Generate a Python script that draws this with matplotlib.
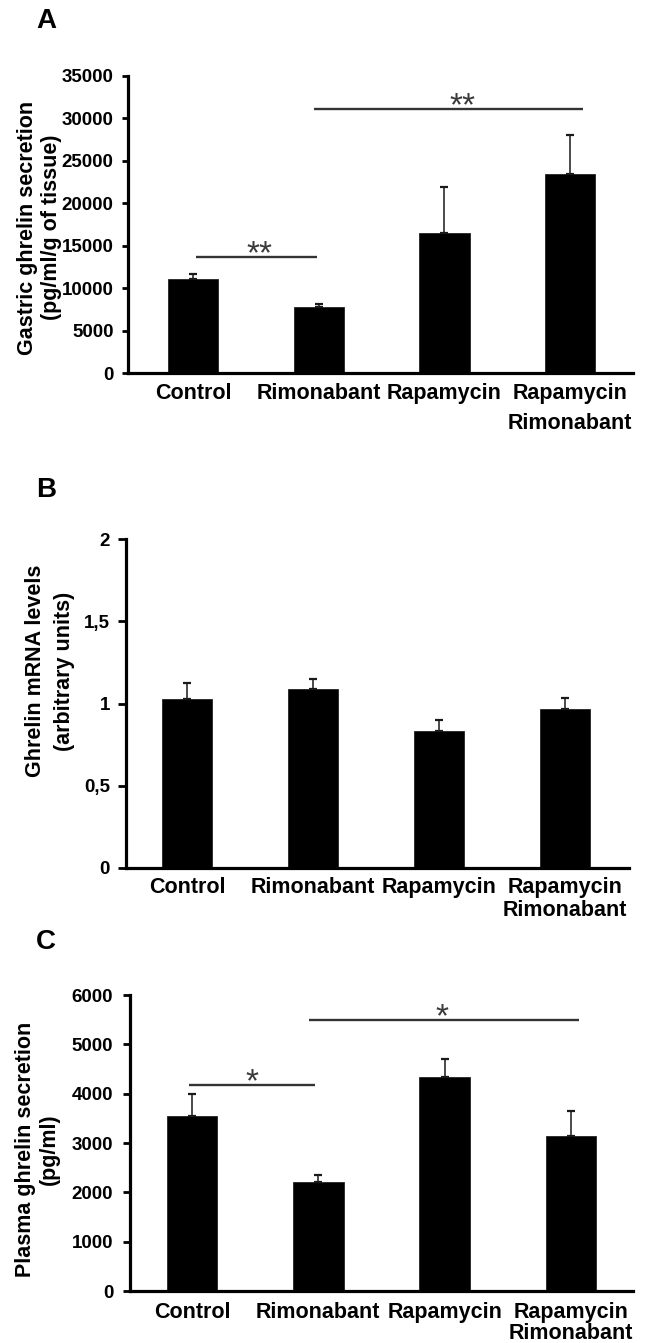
import matplotlib
matplotlib.use('Agg')
import matplotlib.pyplot as plt

plt.rcParams['font.family'] = ['Liberation Sans', 'DejaVu Sans']
plt.rcParams['font.weight'] = 'bold'

# ---------------- data ----------------
categories = ['Control', 'Rimonabant', 'Rapamycin', 'Rapamycin\nRimonabant']

gastric_mean = [11040, 7760, 16500, 23450]
gastric_sem = [620, 400, 5460, 4600]
gastric_ticks = [0, 5000, 10000, 15000, 20000, 25000, 30000, 35000]
gastric_ticklabels = ['0', '5000', '10000', '15000', '20000', '25000', '30000', '35000']

mrna_mean = [1.027, 1.086, 0.835, 0.964]
mrna_sem = [0.096, 0.061, 0.062, 0.072]
mrna_ticks = [0, 0.5, 1, 1.5, 2]
mrna_ticklabels = ['0', '0,5', '1', '1,5', '2']

plasma_mean = [3547, 2216, 4345, 3149]
plasma_sem = [440, 129, 358, 500]
plasma_ticks = [0, 1000, 2000, 3000, 4000, 5000, 6000]
plasma_ticklabels = ['0', '1000', '2000', '3000', '4000', '5000', '6000']

# significance brackets (category units / data units)
gastric_sig_x0 = [0.02, 0.96]
gastric_sig_x1 = [0.99, 3.10]
gastric_sig_y = [13670, 31110]
gastric_sig_star_x = [0.525, 2.14]
gastric_sig_label = ['**', '**']

plasma_sig_x0 = [-0.02, 0.93]
plasma_sig_x1 = [0.97, 3.06]
plasma_sig_y = [4176, 5493]
plasma_sig_star_x = [0.475, 1.98]
plasma_sig_label = ['*', '*']

# ---------------- figure ----------------
W, H = 656, 1343
fig = plt.figure(figsize=(W / 100, H / 100), dpi=100)


def px_axes(left, right, top, bottom):
    return fig.add_axes([left / W, 1 - bottom / H, (right - left) / W, (bottom - top) / H])


def style_axes(ax, ticks, ticklabels, ylim, xlim, ticklen, ypad, xpad, xls):
    x = list(range(len(categories)))
    ax.set_xlim(*xlim)
    ax.set_ylim(*ylim)
    for s in ['top', 'right']:
        ax.spines[s].set_visible(False)
    for s in ['left', 'bottom']:
        ax.spines[s].set_linewidth(2.3)
    ax.set_yticks(ticks)
    ax.set_yticklabels(ticklabels, fontsize=13.5, fontweight='bold')
    ax.tick_params(axis='y', direction='out', length=ticklen, width=2, pad=ypad)
    ax.set_xticks(x)
    ax.set_xticklabels(categories, fontsize=15.5, fontweight='bold')
    ax.tick_params(axis='x', length=0, pad=xpad)
    for lbl in ax.get_xticklabels():
        lbl.set_linespacing(xls)


def draw_bars(ax, mean, sem):
    x = list(range(len(categories)))
    ax.bar(x, mean, width=0.40, color='black', edgecolor='#222222', linewidth=0.6, zorder=2)
    ax.errorbar(x, mean, yerr=[[0] * len(mean), sem], fmt='none', ecolor='#1a1a1a',
                elinewidth=1.1, capsize=2.9, capthick=1.6, zorder=3)


def draw_sig(ax, x0s, x1s, ys, sx, labels):
    for a, b, y, s, t in zip(x0s, x1s, ys, sx, labels):
        ax.plot([a, b], [y, y], color='#333333', lw=1.7, solid_capstyle='butt', zorder=3)
        ax.annotate(t, xy=(s, y), xytext=(0, -4.5), textcoords='offset points',
                    ha='center', va='baseline', fontsize=24, fontweight='normal',
                    color='#3a3a3a', annotation_clip=False)


# Panel A
axA = px_axes(128, 633, 76, 373)
draw_bars(axA, gastric_mean, gastric_sem)
style_axes(axA, gastric_ticks, gastric_ticklabels, (0, 35000), (-0.517, 3.50), 4.0, 6.3, 7.0, 1.58)
draw_sig(axA, gastric_sig_x0, gastric_sig_x1, gastric_sig_y, gastric_sig_star_x, gastric_sig_label)
axA.text(-0.175, 0.49, 'Gastric ghrelin secretion\n(pg/ml/g of tissue)', transform=axA.transAxes,
         rotation=90, ha='center', va='center', multialignment='center', fontsize=15.5,
         fontweight='bold', linespacing=1.2)

# Panel B
axB = px_axes(126, 629, 539, 868)
draw_bars(axB, mrna_mean, mrna_sem)
style_axes(axB, mrna_ticks, mrna_ticklabels, (0, 2), (-0.484, 3.51), 5.5, 6.0, 6.3, 1.14)
axB.text(-0.151, 0.599, 'Ghrelin mRNA levels\n(arbitrary units)', transform=axB.transAxes,
         rotation=90, ha='center', va='center', multialignment='center', fontsize=15.5,
         fontweight='bold', linespacing=1.45)

# Panel C
axC = px_axes(130, 633, 995, 1291)
draw_bars(axC, plasma_mean, plasma_sem)
style_axes(axC, plasma_ticks, plasma_ticklabels, (0, 6000), (-0.49, 3.49), 5.0, 7.0, 7.9, 1.03)
draw_sig(axC, plasma_sig_x0, plasma_sig_x1, plasma_sig_y, plasma_sig_star_x, plasma_sig_label)
axC.text(-0.184, 0.48, 'Plasma ghrelin secretion\n(pg/ml)', transform=axC.transAxes,
         rotation=90, ha='center', va='center', multialignment='center', fontsize=15.5,
         fontweight='bold', linespacing=1.15)

# panel letters
for letter, base in zip(['A', 'B', 'C'], [28, 497, 949]):
    fig.text(36 / W, 1 - base / H, letter, fontsize=20, fontweight='bold', ha='left', va='baseline')

fig.savefig('out.png', dpi=100, facecolor='white')
